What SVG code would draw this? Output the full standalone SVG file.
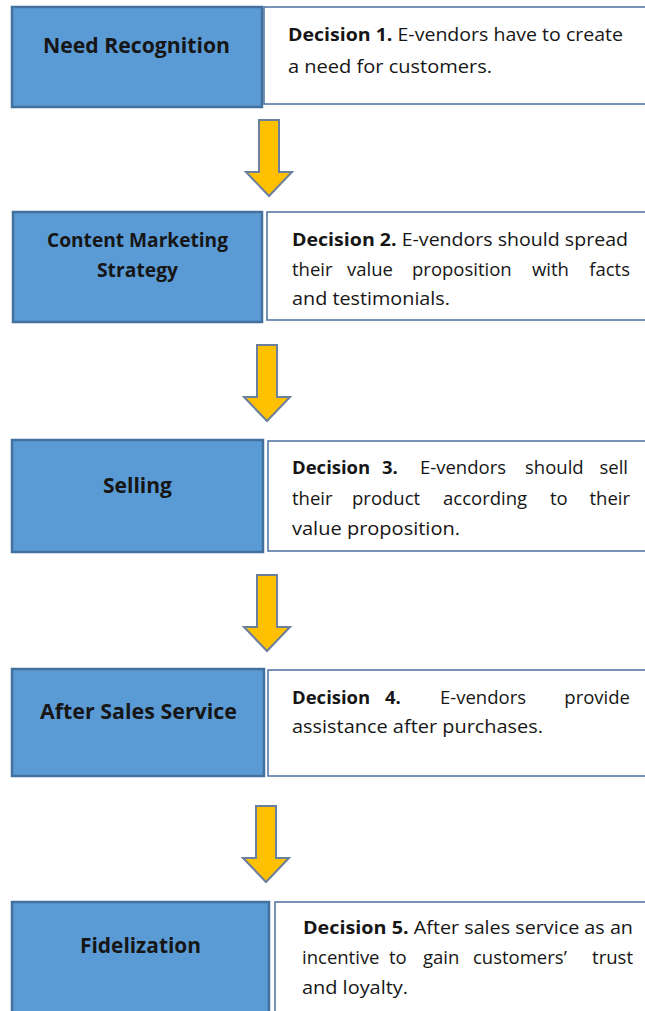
<svg xmlns="http://www.w3.org/2000/svg" width="645" height="1011" viewBox="0 0 645 1011">
<defs>
<style>
.blue{fill:#5B9BD5;stroke:#41719C;stroke-width:2.5}
.white{fill:#ffffff;stroke:#4a6fa0;stroke-width:1.5}
.arrow{fill:#FFC000;stroke:#6a7f9c;stroke-width:2}
.lbl{font-family:"Open Sans",Lato,"Liberation Sans",sans-serif;font-weight:bold;font-size:22px;fill:#161616;text-anchor:middle}
.txt{font-family:"Open Sans",Lato,"Liberation Sans",sans-serif;font-size:18.5px;fill:#161616}
.b{font-weight:bold}
.e{text-anchor:end}
</style>
</defs>
<rect width="645" height="1011" fill="#ffffff"/>
<g id="connectors">
<polygon class="arrow" points="259,120 279,120 279,172 292,172 269,196 246,172 259,172"/>
<polygon class="arrow" points="257,345 277,345 277,397 290,397 267,421 244,397 257,397"/>
<polygon class="arrow" points="257,575 277,575 277,627 290,627 267,651 244,627 257,627"/>
<polygon class="arrow" points="256,806 276,806 276,858 289,858 266,882 243,858 256,858"/>
</g>
<g id="node1">
<rect class="blue" x="12" y="7" width="250" height="100"/>
<text class="lbl" x="136.5" y="53" textLength="187" lengthAdjust="spacingAndGlyphs">Need Recognition</text>
</g>
<g id="desc1">
<rect class="white" x="264" y="7" width="385" height="97"/>
<text class="txt" x="288" y="41" textLength="335" lengthAdjust="spacingAndGlyphs"><tspan class="b">Decision 1.</tspan> E-vendors have to create</text>
<text class="txt" x="288" y="73" textLength="204" lengthAdjust="spacingAndGlyphs">a need for customers.</text>
</g>
<g id="node2">
<rect class="blue" x="13" y="212" width="249" height="110"/>
<text class="lbl" x="137.5" y="247" style="font-size:20px" textLength="181" lengthAdjust="spacingAndGlyphs">Content Marketing</text>
<text class="lbl" x="137.5" y="277" style="font-size:20px" textLength="81" lengthAdjust="spacingAndGlyphs">Strategy</text>
</g>
<g id="desc2">
<rect class="white" x="267" y="212" width="382" height="108"/>
<text class="txt" x="292" y="246" textLength="336" lengthAdjust="spacingAndGlyphs"><tspan class="b">Decision 2.</tspan> E-vendors should spread</text>
<text class="txt" y="276"><tspan x="292">their</tspan><tspan x="347">value</tspan><tspan x="412">proposition</tspan><tspan x="532">with</tspan><tspan class="e" x="630">facts</tspan></text>
<text class="txt" x="292" y="305" textLength="158" lengthAdjust="spacingAndGlyphs">and testimonials.</text>
</g>
<g id="node3">
<rect class="blue" x="12" y="440" width="251" height="112"/>
<text class="lbl" x="137.5" y="493" textLength="69" lengthAdjust="spacingAndGlyphs">Selling</text>
</g>
<g id="desc3">
<rect class="white" x="268" y="441" width="381" height="110"/>
<text class="txt" y="474"><tspan class="b" x="292">Decision</tspan><tspan class="b" x="382">3.</tspan><tspan x="420">E-vendors</tspan><tspan x="525">should</tspan><tspan class="e" x="628">sell</tspan></text>
<text class="txt" y="505"><tspan x="292">their</tspan><tspan x="352">product</tspan><tspan x="443">according</tspan><tspan x="550">to</tspan><tspan class="e" x="630">their</tspan></text>
<text class="txt" x="292" y="535" textLength="168" lengthAdjust="spacingAndGlyphs">value proposition.</text>
</g>
<g id="node4">
<rect class="blue" x="12" y="669" width="252" height="107"/>
<text class="lbl" x="138.5" y="719" textLength="197" lengthAdjust="spacingAndGlyphs">After Sales Service</text>
</g>
<g id="desc4">
<rect class="white" x="268" y="670" width="381" height="106"/>
<text class="txt" y="704"><tspan class="b" x="292">Decision</tspan><tspan class="b" x="385">4.</tspan><tspan x="440">E-vendors</tspan><tspan class="e" x="630">provide</tspan></text>
<text class="txt" x="292" y="733" textLength="251" lengthAdjust="spacingAndGlyphs">assistance after purchases.</text>
</g>
<g id="node5">
<rect class="blue" x="12" y="902" width="257" height="115"/>
<text class="lbl" x="140.5" y="953" textLength="121" lengthAdjust="spacingAndGlyphs">Fidelization</text>
</g>
<g id="desc5">
<rect class="white" x="275" y="902" width="374" height="115"/>
<text class="txt" x="303" y="934" textLength="330" lengthAdjust="spacingAndGlyphs"><tspan class="b">Decision 5.</tspan> After sales service as an</text>
<text class="txt" y="964"><tspan x="302">incentive</tspan><tspan x="389">to</tspan><tspan x="423">gain</tspan><tspan x="473">customers’</tspan><tspan class="e" x="633">trust</tspan></text>
<text class="txt" x="302" y="994" textLength="106" lengthAdjust="spacingAndGlyphs">and loyalty.</text>
</g>
</svg>
